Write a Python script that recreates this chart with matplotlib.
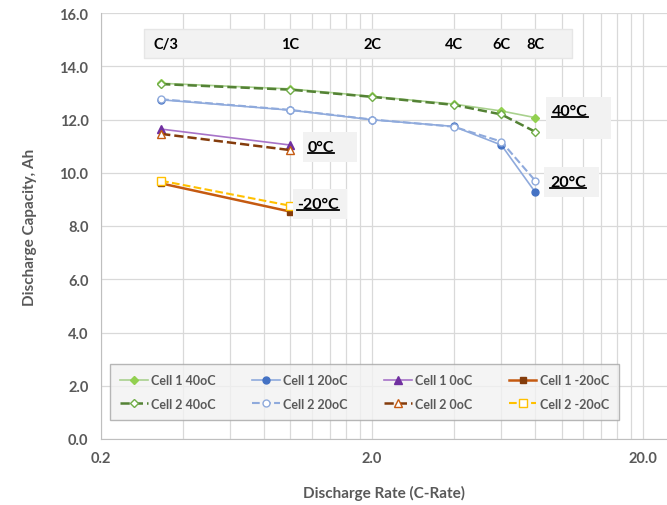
import matplotlib.pyplot as plt
import numpy as np
from matplotlib.lines import Line2D
from matplotlib.ticker import FixedLocator, FuncFormatter

plt.rcParams['font.family'] = ['Lato', 'DejaVu Sans']

# C-rates
rates = [1 / 3, 1, 2, 4, 6, 8]
rate_labels = ['C/3', '1C', '2C', '4C', '6C', '8C']
low_rates = [1 / 3, 1]

# discharge capacity, Ah
cell1_40 = [13.36, 13.15, 12.87, 12.58, 12.32, 12.07]
cell2_40 = [13.33, 13.12, 12.85, 12.55, 12.19, 11.54]
cell1_20 = [12.74, 12.35, 11.99, 11.74, 11.04, 9.27]
cell2_20 = [12.76, 12.36, 12.00, 11.73, 11.17, 9.70]
cell1_0 = [11.64, 11.04]
cell2_0 = [11.46, 10.85]
cell1_m20 = [9.60, 8.54]
cell2_m20 = [9.70, 8.76]

temp_labels = ['40°C', '20°C', '0°C', '-20°C']

grey = '#595959'
fig = plt.figure(figsize=(6.67, 5.06), dpi=100)
ax = fig.add_axes([101 / 667, 66 / 506, 566 / 667, 426 / 506])

ax.set_xscale('log')
ax.set_xlim(0.2, 24.5)
ax.set_ylim(0, 16)

# series
ax.plot(rates, cell1_40, '-', color='#a9d18e', lw=1.2, marker='D', ms=4,
        mfc='#92d050', mec='#92d050', label='Cell 1 40oC')
ax.plot(rates, cell2_40, '--', color='#548235', lw=1.8, marker='D', ms=4,
        mfc='white', mec='#70ad47', label='Cell 2 40oC')
ax.plot(rates, cell1_20, '-', color='#8faadc', lw=1.2, marker='o', ms=5,
        mfc='#4472c4', mec='#4472c4', label='Cell 1 20oC')
ax.plot(rates, cell2_20, '--', color='#8faadc', lw=1.5, marker='o', ms=5,
        mfc='white', mec='#8faadc', label='Cell 2 20oC')
ax.plot(low_rates, cell1_0, '-', color='#a773c8', lw=1.2, marker='^', ms=6,
        mfc='#7030a0', mec='#7030a0', label='Cell 1 0oC')
ax.plot(low_rates, cell2_0, '--', color='#843c0c', lw=1.8, marker='^', ms=6,
        mfc='white', mec='#c55a11', label='Cell 2 0oC')
ax.plot(low_rates, cell1_m20, '-', color='#c55a11', lw=1.8, marker='s', ms=5,
        mfc='#843c0c', mec='#843c0c', label='Cell 1 -20oC')
ax.plot(low_rates, cell2_m20, '--', color='#ffc000', lw=1.5, marker='s', ms=6,
        mfc='white', mec='#ffc000', label='Cell 2 -20oC')

# axes and grid
ax.xaxis.set_major_locator(FixedLocator([0.2, 2, 20]))
minor = [0.2 * k * d for d in (1, 10) for k in range(2, 10)] + [40]
ax.xaxis.set_minor_locator(FixedLocator(minor))
ax.xaxis.set_major_formatter(FuncFormatter(lambda v, p: '%.1f' % v))
ax.xaxis.set_minor_formatter(FuncFormatter(lambda v, p: ''))
ax.set_yticks(np.arange(0, 17, 2))
ax.yaxis.set_major_formatter(FuncFormatter(lambda v, p: '%.1f' % v))
ax.grid(True, which='both', color='#d9d9d9', lw=0.9)
ax.set_axisbelow(True)
ax.tick_params(which='both', length=0, colors=grey, labelsize=10.5, pad=9)
for t in ax.get_xticklabels() + ax.get_yticklabels():
    t.set_fontweight('bold')
for s in ['top', 'right']:
    ax.spines[s].set_visible(False)
for s in ['left', 'bottom']:
    ax.spines[s].set_color('#bfbfbf')

ax.set_xlabel('Discharge Rate (C-Rate)', color=grey, fontsize=11,
              fontweight='bold', labelpad=14)
ax.set_ylabel('Discharge Capacity, Ah', color=grey, fontsize=11,
              fontweight='bold', labelpad=16)

# rate label band on top
ax.fill_between([0.288, 10.96], 14.31, 15.4, color='#f2f2f2', zorder=1,
                ec='#e6e6e6')
offsets = [1.04, 1, 1, 1, 1, 1]
for r, lab, o in zip(rates, rate_labels, offsets):
    ax.text(r * o, 14.84, lab, ha='center', va='center', fontsize=10.5,
            fontweight='bold', color='black', zorder=3)

# temperature labels, each in a grey box
boxes = [(8.78, 15.2, 11.27, 12.85), (8.62, 13.7, 9.09, 10.22),
         (1.11, 1.76, 10.40, 11.53), (1.02, 1.62, 8.26, 9.39)]
spots = [(10.76, 12.32), (10.57, 9.65), (1.297, 10.97), (1.264, 8.83)]
labels = []
for (x0, x1, y0, y1), (xt, yt), txt in zip(boxes, spots, temp_labels):
    ax.fill_between([x0, x1], y0, y1, color='#f2f2f2', zorder=2, lw=0)
    labels.append(ax.text(xt, yt, txt, ha='center', va='center',
                          fontsize=11.5, fontweight='bold', color='black',
                          zorder=3))

leg = ax.legend(ncol=4, loc='lower left', bbox_to_anchor=(0.016, 0.045),
                borderaxespad=0, fontsize=9, frameon=True, fancybox=False,
                handlelength=2.2, columnspacing=2.9, borderpad=0.8,
                labelspacing=0.95, handletextpad=0.3)
leg.get_frame().set_facecolor('#f2f2f2')
leg.get_frame().set_edgecolor('#a6a6a6')
for t in leg.get_texts():
    t.set_color(grey)
    t.set_fontweight('bold')

# underline the temperature labels
fig.canvas.draw()
r = fig.canvas.get_renderer()
W, H = fig.bbox.width, fig.bbox.height
for t in labels:
    bb = t.get_window_extent(r)
    yl = bb.y0 + 1
    fig.add_artist(Line2D([bb.x0 / W, bb.x1 / W], [yl / H, yl / H],
                          color='black', lw=1.3, zorder=5))

fig.savefig('out.png', dpi=100)
